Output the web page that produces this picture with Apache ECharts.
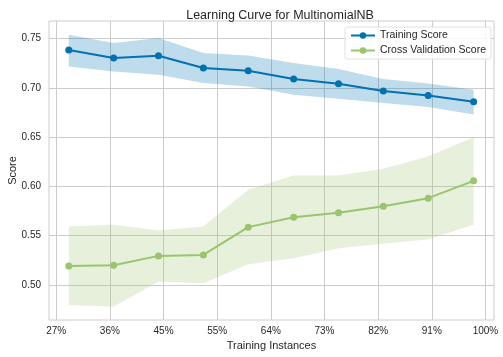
<!DOCTYPE html>
<html>
<head>
<meta charset="utf-8">
<script src="https://cdn.jsdelivr.net/npm/echarts@6/dist/echarts.min.js"></script>
<style>html,body{margin:0;padding:0;background:#fff}#c{width:503px;height:357px}</style>
</head>
<body>
<div id="c"></div>
<script>
// Training set size as % of the full set
const trainSizes = [29.4, 37.0, 44.6, 52.2, 59.8, 67.5, 75.1, 82.7, 90.3, 98.0];
const trainMean  = [0.7385, 0.7304, 0.7327, 0.7202, 0.7175, 0.7090, 0.7043, 0.6969, 0.6924, 0.6860];
const trainUpper = [0.7540, 0.7456, 0.7507, 0.7355, 0.7330, 0.7253, 0.7192, 0.7090, 0.7046, 0.6982];
const trainLower = [0.7219, 0.7168, 0.7134, 0.7050, 0.7015, 0.6931, 0.6890, 0.6847, 0.6806, 0.6731];
const cvMean     = [0.5193, 0.5200, 0.5295, 0.5305, 0.5587, 0.5688, 0.5732, 0.5800, 0.5881, 0.6057];
const cvUpper    = [0.5593, 0.5610, 0.5552, 0.5593, 0.5966, 0.6111, 0.6111, 0.6179, 0.6304, 0.6500];
const cvLower    = [0.4797, 0.4780, 0.5034, 0.5018, 0.5211, 0.5272, 0.5373, 0.5417, 0.5465, 0.5610];
const xTicks = [300/11, 400/11, 500/11, 600/11, 700/11, 800/11, 900/11, 1000/11, 100];
const yTicks = [0.50, 0.55, 0.60, 0.65, 0.70, 0.75];

const blue = '#0072B2', green = '#9BC46F';
const font = '"Liberation Sans", Arial, sans-serif';
const txt = '#262626';
const pts = (ys) => trainSizes.map((x, i) => [x, ys[i]]);

function bandSeries(name, upper, lower, color) {
  const data = trainSizes.map((x, i) => [x, lower[i], upper[i]]);
  return {
    name: name, type: 'custom', silent: true, z: 1,
    data: data,
    encode: { x: 0, y: [1, 2] },
    renderItem: function (params, api) {
      if (params.dataIndex !== 0) return null;
      const top = data.map(d => api.coord([d[0], d[2]]));
      const bot = data.map(d => api.coord([d[0], d[1]])).reverse();
      return {
        type: 'polygon',
        shape: { points: top.concat(bot) },
        style: { fill: color, stroke: null }
      };
    }
  };
}

const chart = echarts.init(document.getElementById('c'));
chart.setOption({
  animation: false,
  textStyle: { fontFamily: font },
  title: {
    text: 'Learning Curve for MultinomialNB', left: 275, top: 4, textAlign: 'center',
    textStyle: { fontSize: 12.5, fontWeight: 'normal', color: txt, fontFamily: font }
  },
  grid: { left: 49, right: 9, top: 21, bottom: 37, show: true, borderColor: '#cccccc', borderWidth: 1,
          containLabel: false, outerBoundsMode: 'none' },
  legend: {
    data: ['Training Score', 'Cross Validation Score'],
    orient: 'vertical', right: 12, top: 27,
    itemWidth: 24, itemHeight: 8, itemGap: 4,
    padding: [3, 5, 3, 5],
    backgroundColor: 'rgba(255,255,255,0.85)', borderColor: '#e0e0e0', borderWidth: 1, borderRadius: 2,
    textStyle: { fontSize: 10.5, color: txt, fontFamily: font }
  },
  xAxis: {
    type: 'value', min: 26.05, max: 101.45,
    name: 'Training Instances', nameLocation: 'middle', nameGap: 20, nameMoveOverlap: false,
    nameTextStyle: { fontSize: 11, color: txt, fontFamily: font },
    axisLine: { show: false },
    axisTick: { show: false, customValues: xTicks },
    axisLabel: { customValues: xTicks, formatter: v => Math.round(v) + '%', fontSize: 10, color: txt, margin: 6, fontFamily: font },
    splitLine: { show: true, lineStyle: { color: '#cccccc', width: 1 } }
  },
  yAxis: {
    type: 'value', min: 0.4644, max: 0.768,
    name: 'Score', nameLocation: 'middle', nameGap: 31, nameRotate: 90, nameMoveOverlap: false,
    nameTextStyle: { fontSize: 11, color: txt, fontFamily: font },
    axisLine: { show: false },
    axisTick: { show: false, customValues: yTicks },
    axisLabel: { customValues: yTicks, formatter: v => v.toFixed(2), fontSize: 10, color: txt, margin: 8, fontFamily: font },
    splitLine: { show: true, lineStyle: { color: '#cccccc', width: 1 } }
  },
  series: [
    bandSeries('trainBand', trainUpper, trainLower, 'rgba(0,114,178,0.25)'),
    bandSeries('cvBand', cvUpper, cvLower, 'rgba(155,196,111,0.25)'),
    { name: 'Training Score', type: 'line', data: pts(trainMean), symbol: 'circle', symbolSize: 7,
      itemStyle: { color: blue }, lineStyle: { color: blue, width: 2 }, z: 3 },
    { name: 'Cross Validation Score', type: 'line', data: pts(cvMean), symbol: 'circle', symbolSize: 7,
      itemStyle: { color: green }, lineStyle: { color: green, width: 2 }, z: 3 }
  ]
});
</script>
</body>
</html>
